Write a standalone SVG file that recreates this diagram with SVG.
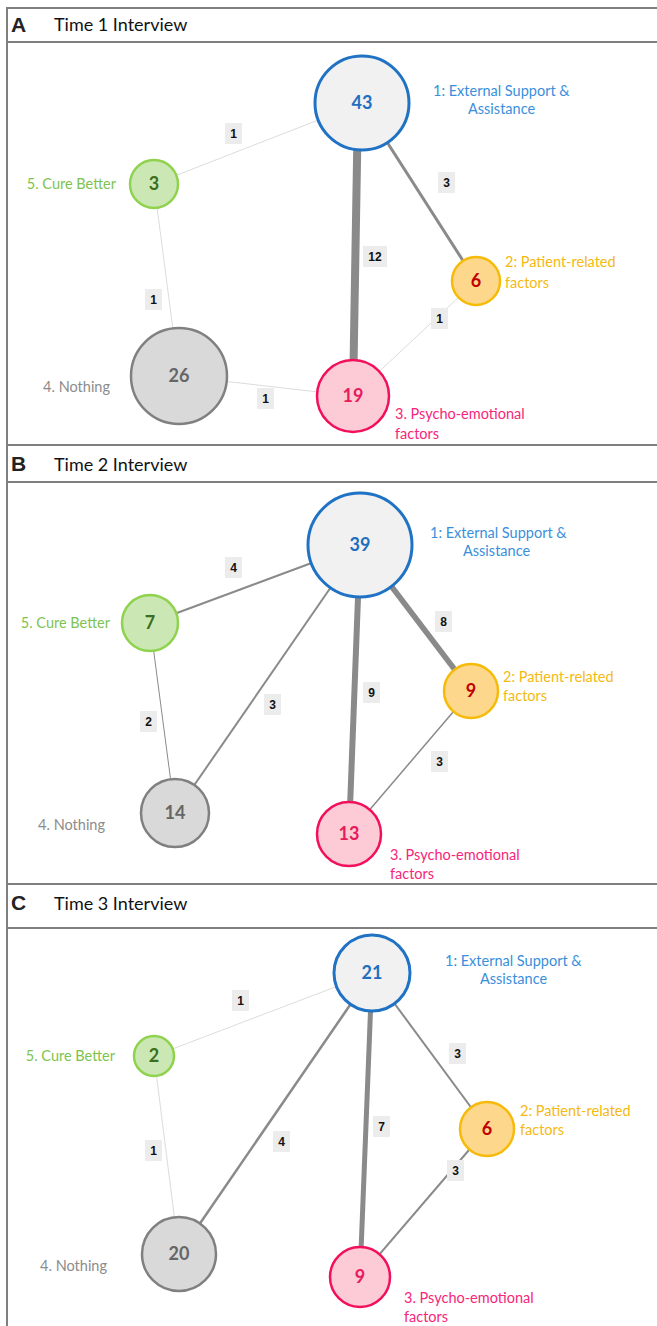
<svg xmlns="http://www.w3.org/2000/svg" width="657" height="1326" viewBox="0 0 657 1326">
<style>
.frame{stroke:#7f7f7f;stroke-width:2;fill:none}
.pl{font-family:"Liberation Sans",Arial,sans-serif;font-weight:bold;font-size:21px;fill:#222}
.ttl{font-family:Lato,"Open Sans",sans-serif;font-size:18px;fill:#111}
.e{stroke:#8a8a8a;fill:none;stroke-linecap:butt}
.e1{stroke:#dcdcdc;stroke-width:1}
.lb rect{fill:#ececec}
.lb text{font-family:"Liberation Sans",Arial,sans-serif;font-weight:bold;font-size:12px;fill:#111;text-anchor:middle}
.v{font-family:Lato,"Open Sans",sans-serif;font-weight:bold;font-size:18px;text-anchor:middle}
.t{font-family:Lato,"Open Sans",sans-serif;font-size:14.5px;text-anchor:start}
.t.r{text-anchor:end}
.c1 circle{fill:#f1f1f1;stroke:#1f72c4;stroke-width:3}
.c1 .v{fill:#1f6fbf}
.c1 .t{fill:#3a8fdc}
.c5 circle{fill:#cbe8b4;stroke:#8fd24e;stroke-width:2.5}
.c5 .v{fill:#3c6e21}
.c5 .t{fill:#7ec34f}
.c2 circle{fill:#fdd88c;stroke:#f6bb0a;stroke-width:2.5}
.c2 .v{fill:#c00000}
.c2 .t{fill:#f5b90f}
.c4 circle{fill:#d9d9d9;stroke:#808080;stroke-width:2.5}
.c4 .v{fill:#666}
.c4 .t{fill:#8c8c8c}
.c3 circle{fill:#fccbd5;stroke:#f2105c;stroke-width:2.5}
.c3 .v{fill:#e81a5c}
.c3 .t{fill:#f7267a}
</style>
<rect width="657" height="1326" fill="#fff"/>
<g id="frames">
<line class="frame" x1="7" y1="8" x2="657" y2="8"/>
<line class="frame" x1="7" y1="42" x2="657" y2="42"/>
<line class="frame" x1="7" y1="445" x2="657" y2="445"/>
<line class="frame" x1="7" y1="482" x2="657" y2="482"/>
<line class="frame" x1="7" y1="884" x2="657" y2="884"/>
<line class="frame" x1="7" y1="928" x2="657" y2="928"/>
<line class="frame" x1="7" y1="7" x2="7" y2="1326"/>
<text class="pl" x="11" y="32">A</text>
<text class="ttl" x="54" y="31">Time 1 Interview</text>
<text class="pl" x="11" y="471">B</text>
<text class="ttl" x="54" y="471">Time 2 Interview</text>
<text class="pl" x="11" y="910">C</text>
<text class="ttl" x="54" y="910">Time 3 Interview</text>
</g>

<g id="connectors">
<!-- Panel A -->
<line class="e e1" x1="362" y1="103" x2="154" y2="184"/>
<line class="e e1" x1="154" y1="184" x2="179" y2="376"/>
<line class="e e1" x1="476" y1="281" x2="353" y2="396"/>
<line class="e e1" x1="179" y1="376" x2="353" y2="396"/>
<line class="e" stroke-width="3" x1="362" y1="103" x2="476" y2="281"/>
<line class="e" stroke-width="8" x1="358" y1="103" x2="353" y2="396"/>
<!-- Panel B -->
<line class="e" stroke-width="2" x1="360" y1="545" x2="150" y2="623"/>
<line class="e" stroke="#9a9a9a" stroke-width="1" x1="150" y1="623" x2="175" y2="813"/>
<line class="e" stroke-width="2" x1="360" y1="545" x2="175" y2="813"/>
<line class="e" stroke-width="6" x1="360" y1="545" x2="349" y2="834"/>
<line class="e" stroke-width="5.5" x1="360" y1="545" x2="471" y2="691"/>
<line class="e" stroke-width="1.5" x1="471" y1="691" x2="349" y2="834"/>
<!-- Panel C -->
<line class="e e1" x1="372" y1="973" x2="154" y2="1056"/>
<line class="e e1" x1="154" y1="1056" x2="179" y2="1254"/>
<line class="e" stroke-width="2.5" x1="372" y1="973" x2="179" y2="1254"/>
<line class="e" stroke-width="5" x1="372" y1="973" x2="360" y2="1277"/>
<line class="e" stroke-width="2" x1="372" y1="973" x2="487" y2="1129"/>
<line class="e" stroke-width="2" x1="487" y1="1129" x2="360" y2="1277"/>
</g>

<g id="edge-labels" class="lb">
<rect x="225" y="123" width="17" height="21"/><text x="233.5" y="138">1</text>
<rect x="438" y="172" width="17" height="21"/><text x="446.5" y="187">3</text>
<rect x="363" y="246" width="24" height="21"/><text x="375" y="261">12</text>
<rect x="145" y="289" width="17" height="21"/><text x="153.5" y="304">1</text>
<rect x="431" y="308" width="17" height="21"/><text x="439.5" y="323">1</text>
<rect x="257" y="388" width="17" height="21"/><text x="265.5" y="403">1</text>

<rect x="225" y="557" width="17" height="21"/><text x="233.5" y="572">4</text>
<rect x="435" y="611" width="17" height="21"/><text x="443.5" y="626">8</text>
<rect x="363" y="682" width="17" height="21"/><text x="371.5" y="697">9</text>
<rect x="264" y="694" width="17" height="21"/><text x="272.5" y="709">3</text>
<rect x="140" y="711" width="17" height="21"/><text x="148.5" y="726">2</text>
<rect x="431" y="751" width="17" height="21"/><text x="439.5" y="766">3</text>

<rect x="232" y="990" width="17" height="21"/><text x="240.5" y="1005">1</text>
<rect x="449" y="1043" width="17" height="21"/><text x="457.5" y="1058">3</text>
<rect x="373" y="1116" width="17" height="21"/><text x="381.5" y="1131">7</text>
<rect x="273" y="1131" width="17" height="21"/><text x="281.5" y="1146">4</text>
<rect x="145" y="1140" width="17" height="21"/><text x="153.5" y="1155">1</text>
<rect x="447" y="1160" width="17" height="21"/><text x="455.5" y="1175">3</text>
</g>

<!-- Panel A nodes -->
<g id="A1" class="c1"><circle cx="362" cy="103" r="47"/><text class="v" x="362" y="109">43</text>
<text class="t" x="433" y="96">1: External Support &amp;</text><text class="t" x="468" y="114">Assistance</text></g>
<g id="A5" class="c5"><circle cx="154" cy="184" r="24"/><text class="v" x="154" y="190">3</text>
<text class="t r" x="116" y="189">5. Cure Better</text></g>
<g id="A2" class="c2"><circle cx="476" cy="281" r="24"/><text class="v" x="476" y="287">6</text>
<text class="t" x="505" y="267">2: Patient-related</text><text class="t" x="505" y="288">factors</text></g>
<g id="A4" class="c4"><circle cx="179" cy="376" r="48"/><text class="v" x="179" y="382">26</text>
<text class="t r" x="110" y="392">4. Nothing</text></g>
<g id="A3" class="c3"><circle cx="353" cy="396" r="36"/><text class="v" x="353" y="402">19</text>
<text class="t" x="395" y="419">3. Psycho-emotional</text><text class="t" x="395" y="439">factors</text></g>

<!-- Panel B nodes -->
<g id="B1" class="c1"><circle cx="360" cy="545" r="52"/><text class="v" x="360" y="551">39</text>
<text class="t" x="430" y="538">1: External Support &amp;</text><text class="t" x="463" y="556">Assistance</text></g>
<g id="B5" class="c5"><circle cx="150" cy="623" r="28"/><text class="v" x="150" y="629">7</text>
<text class="t r" x="110" y="628">5. Cure Better</text></g>
<g id="B2" class="c2"><circle cx="471" cy="691" r="27"/><text class="v" x="471" y="697">9</text>
<text class="t" x="503" y="682">2: Patient-related</text><text class="t" x="503" y="701">factors</text></g>
<g id="B4" class="c4"><circle cx="175" cy="813" r="34"/><text class="v" x="175" y="819">14</text>
<text class="t r" x="105" y="830">4. Nothing</text></g>
<g id="B3" class="c3"><circle cx="349" cy="834" r="32"/><text class="v" x="349" y="840">13</text>
<text class="t" x="390" y="860">3. Psycho-emotional</text><text class="t" x="390" y="879">factors</text></g>

<!-- Panel C nodes -->
<g id="C1" class="c1"><circle cx="372" cy="973" r="38"/><text class="v" x="372" y="979">21</text>
<text class="t" x="445" y="966">1: External Support &amp;</text><text class="t" x="480" y="984">Assistance</text></g>
<g id="C5" class="c5"><circle cx="154" cy="1056" r="20"/><text class="v" x="154" y="1062">2</text>
<text class="t r" x="115" y="1061">5. Cure Better</text></g>
<g id="C2" class="c2"><circle cx="487" cy="1129" r="27"/><text class="v" x="487" y="1135">6</text>
<text class="t" x="520" y="1116">2: Patient-related</text><text class="t" x="520" y="1135">factors</text></g>
<g id="C4" class="c4"><circle cx="179" cy="1254" r="37"/><text class="v" x="179" y="1260">20</text>
<text class="t r" x="107" y="1271">4. Nothing</text></g>
<g id="C3" class="c3"><circle cx="360" cy="1277" r="30"/><text class="v" x="360" y="1283">9</text>
<text class="t" x="404" y="1303">3. Psycho-emotional</text><text class="t" x="404" y="1322">factors</text></g>
</svg>
